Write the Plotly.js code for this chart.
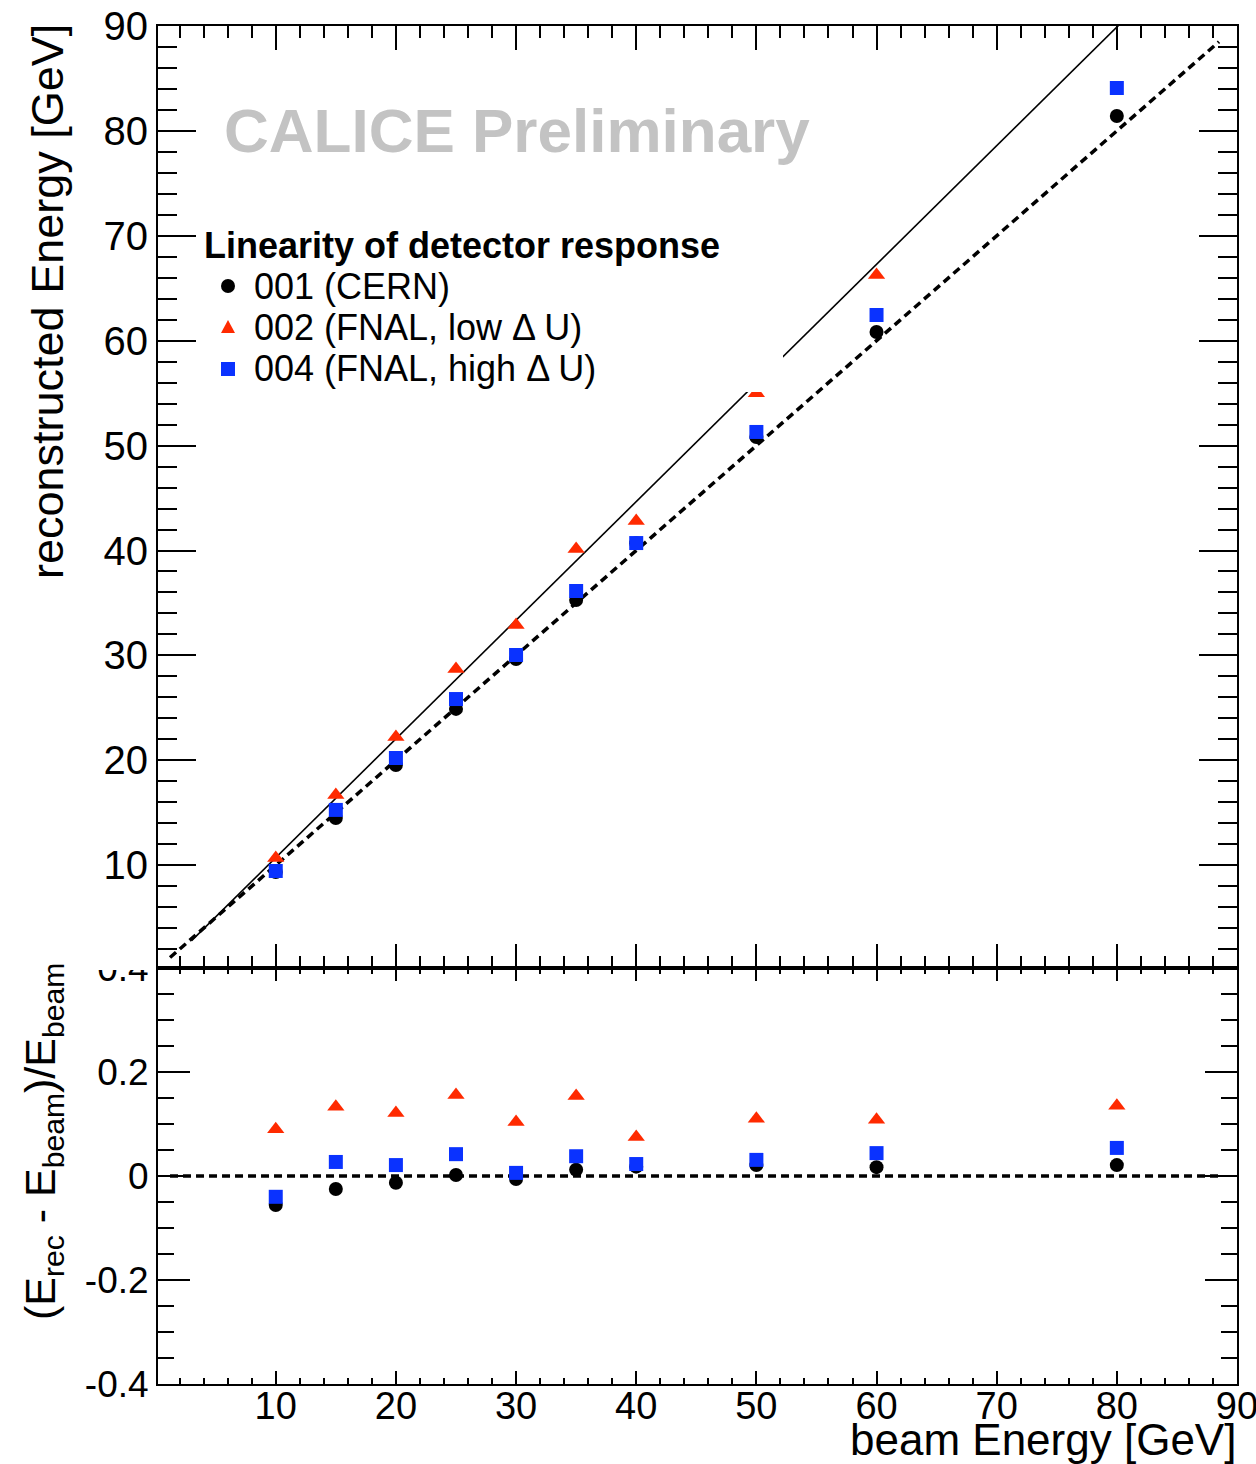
<!DOCTYPE html>
<html>
<head>
<meta charset="utf-8">
<script src="https://cdn.plot.ly/plotly-3.0.1.min.js"></script>
<style>html,body{margin:0;padding:0;background:#fff;}#chart{width:1256px;height:1464px;}</style>
</head>
<body>
<div id="chart"></div>
<script>
// ---- data ----
var beamEnergy = [10, 15, 20, 25, 30, 35, 40, 50, 60, 80];
var recE_001 = [9.35, 14.5, 19.55, 24.9, 29.66, 35.28, 40.7, 50.82, 60.83, 81.42];
var recE_002 = [10.69, 16.69, 22.22, 28.7, 32.9, 40.14, 42.81, 55.0, 66.26, null];
var recE_004 = [9.45, 15.27, 20.22, 25.84, 30.04, 36.14, 40.71, 51.3, 62.45, 84.09];
var res_001 = [-0.056, -0.025, -0.013, 0.002, -0.006, 0.012, 0.018, 0.021, 0.017, 0.021];
var res_002 = [0.090, 0.133, 0.121, 0.156, 0.104, 0.154, 0.075, 0.110, 0.108, 0.135];
var res_004 = [-0.040, 0.027, 0.021, 0.042, 0.006, 0.038, 0.023, 0.031, 0.044, 0.054];
var seriesNames = ['001 (CERN)', '002 (FNAL, low \u0394 U)', '004 (FNAL, high \u0394 U)'];
var legendHeader = 'Linearity of detector response';
var diagX = [1.2, 88.5];           // y = x reference line
var fitSlope = 1.131, fitIntercept = -0.58, fitX = [3, 82]; // fit line for 002
var resTickVals = [-0.4, -0.2, 0, 0.2, 0.4];
var resTickText = ['-0.4', '-0.2', '0', '0.2', '0.4'];

var FONT = 'Liberation Sans, Arial, Helvetica, sans-serif';
var colBlack = '#000000', colRed = '#ff2a00', colBlue = '#0a32ff';

var fitY = fitX.map(function (x) { return fitSlope * x + fitIntercept; });

var traces = [
  {x: diagX, y: diagX, xaxis: 'x', yaxis: 'y', mode: 'lines', showlegend: false, hoverinfo: 'skip',
   line: {color: '#000', width: 3.5, dash: '8px,5px'}},
  {x: fitX, y: fitY, xaxis: 'x', yaxis: 'y', mode: 'lines', showlegend: false, hoverinfo: 'skip',
   line: {color: '#000', width: 1.6}},
  {x: diagX, y: [0, 0], xaxis: 'x2', yaxis: 'y2', mode: 'lines', showlegend: false, hoverinfo: 'skip',
   line: {color: '#000', width: 3.5, dash: '8px,5px'}},
  {x: beamEnergy, y: recE_001, xaxis: 'x', yaxis: 'y', mode: 'markers', name: seriesNames[0], showlegend: false,
   marker: {symbol: 'circle', size: 14, color: colBlack}},
  {x: beamEnergy, y: recE_002, xaxis: 'x', yaxis: 'y', mode: 'markers', name: seriesNames[1], showlegend: false,
   marker: {symbol: 'triangle-up', size: 15, color: colRed}},
  {x: beamEnergy, y: recE_004, xaxis: 'x', yaxis: 'y', mode: 'markers', name: seriesNames[2], showlegend: false,
   marker: {symbol: 'square', size: 14, color: colBlue}},
  {x: beamEnergy, y: res_001, xaxis: 'x2', yaxis: 'y2', mode: 'markers', name: seriesNames[0], showlegend: false,
   marker: {symbol: 'circle', size: 14, color: colBlack}},
  {x: beamEnergy, y: res_002, xaxis: 'x2', yaxis: 'y2', mode: 'markers', name: seriesNames[1], showlegend: false,
   marker: {symbol: 'triangle-up', size: 15, color: colRed}},
  {x: beamEnergy, y: res_004, xaxis: 'x2', yaxis: 'y2', mode: 'markers', name: seriesNames[2], showlegend: false,
   marker: {symbol: 'square', size: 14, color: colBlue}}
];

var W = 1256, H = 1464;
function px(x) { return x / W; }
function py(y) { return (H - y) / H; }
var xDom = [px(158), px(1237)];

function baseAxis(o) {
  var a = {
    showline: true, linecolor: '#000', linewidth: 2, mirror: 'allticks',
    ticks: 'inside', tickcolor: '#000', tickwidth: 2,
    showgrid: false, zeroline: false, automargin: false, fixedrange: true,
    tickfont: {family: FONT, size: 38, color: '#000'}
  };
  for (var k in o) a[k] = o[k];
  return a;
}

// ---- legend drawn by hand (header, markers, labels) ----
var legLeft = 204, legMarkX = 228, legTextX = 255;
var legHeaderY = 245, legRowY = [286, 327, 369];
var legendShapes = [
  {type: 'circle', xref: 'paper', yref: 'paper',
   x0: px(legMarkX - 7), x1: px(legMarkX + 7), y0: py(legRowY[0] + 7), y1: py(legRowY[0] - 7),
   fillcolor: colBlack, line: {width: 0}, layer: 'above'},
  {type: 'path', xref: 'paper', yref: 'paper',
   path: 'M ' + px(legMarkX - 7) + ' ' + py(legRowY[1] + 6) + ' L ' + px(legMarkX + 7) + ' ' + py(legRowY[1] + 6) +
         ' L ' + px(legMarkX) + ' ' + py(legRowY[1] - 7) + ' Z',
   fillcolor: colRed, line: {width: 0}, layer: 'above'},
  {type: 'rect', xref: 'paper', yref: 'paper',
   x0: px(legMarkX - 7), x1: px(legMarkX + 7), y0: py(legRowY[2] + 7), y1: py(legRowY[2] - 7),
   fillcolor: colBlue, line: {width: 0}, layer: 'above'}
];
var legendAnnots = [
  {text: '<b>' + legendHeader + '</b>', xref: 'paper', yref: 'paper', x: px(legLeft - 2), y: py(legHeaderY),
   xanchor: 'left', yanchor: 'middle', showarrow: false, font: {family: FONT, size: 36, color: '#000'}}
];
seriesNames.forEach(function (n, i) {
  legendAnnots.push({text: n, xref: 'paper', yref: 'paper', x: px(legTextX - 3), y: py(legRowY[i]),
    xanchor: 'left', yanchor: 'middle', showarrow: false, font: {family: FONT, size: 36, color: '#000'}});
});

var layout = {
  width: W, height: H,
  margin: {l: 0, r: 0, t: 0, b: 0},
  paper_bgcolor: '#fff', plot_bgcolor: '#fff',
  font: {family: FONT, color: '#000'},
  showlegend: false,
  xaxis: baseAxis({domain: xDom, anchor: 'y', range: [0.2, 90], tick0: 0, dtick: 10,
    ticklen: 24, showticklabels: false,
    minor: {dtick: 2, tick0: 0, ticklen: 12, tickwidth: 2, tickcolor: '#000', ticks: 'inside'}}),
  yaxis: baseAxis({domain: [py(968), py(26)], anchor: 'x', range: [0.2, 90], tick0: 0, dtick: 10,
    ticklen: 38, tickfont: {family: FONT, size: 40, color: '#000'}, ticklabeloverflow: 'allow',
    minor: {dtick: 2, tick0: 0, ticklen: 19, tickwidth: 2, tickcolor: '#000', ticks: 'inside'}}),
  xaxis2: baseAxis({domain: xDom, anchor: 'y2', range: [0.2, 90], tick0: 0, dtick: 10,
    ticklen: 13, tickfont: {family: FONT, size: 38, color: '#000'},
    ticklabeloverflow: 'allow', ticklabelstandoff: -13,
    minor: {dtick: 2, tick0: 0, ticklen: 6, tickwidth: 2, tickcolor: '#000', ticks: 'inside'}}),
  yaxis2: baseAxis({domain: [py(1384), py(968)], anchor: 'x2', range: [-0.4, 0.4],
    tickmode: 'array', tickvals: resTickVals, ticktext: resTickText, ticklabeloverflow: 'allow',
    ticklen: 32, tickfont: {family: FONT, size: 37, color: '#000'},
    minor: {tickmode: 'linear', dtick: 0.05, tick0: 0, ticklen: 16, tickwidth: 2, tickcolor: '#000', ticks: 'inside'}}),
  shapes: [
    // white legend pad (hides part of the fit line, as in the original)
    {type: 'rect', xref: 'paper', yref: 'paper', x0: px(200), x1: px(783), y0: py(392), y1: py(222),
     fillcolor: '#fff', line: {width: 0}, layer: 'above'},
    // upper pad covers the top half of the lower pad's 0.4 label
    {type: 'rect', xref: 'paper', yref: 'paper', x0: 0, x1: px(156), y0: py(970), y1: py(930),
     fillcolor: '#fff', line: {width: 0}, layer: 'above'}
  ].concat(legendShapes),
  annotations: [
    {text: '<b>CALICE Preliminary</b>', xref: 'paper', yref: 'paper', x: px(222), y: py(131),
     xanchor: 'left', yanchor: 'middle', showarrow: false,
     font: {family: FONT, size: 62, color: '#c3c3c3'}},
    {text: 'reconstructed Energy [GeV]', xref: 'paper', yref: 'paper', x: px(48), y: py(302),
     xanchor: 'center', yanchor: 'middle', textangle: -90, showarrow: false,
     font: {family: FONT, size: 45, color: '#000'}},
    {text: '(E<sub>rec</sub> - E<sub>beam</sub>)/E<sub>beam</sub>', xref: 'paper', yref: 'paper',
     x: px(43), y: py(1142), xanchor: 'center', yanchor: 'middle', textangle: -90, showarrow: false,
     font: {family: FONT, size: 43, color: '#000'}},
    {text: 'beam Energy [GeV]', xref: 'paper', yref: 'paper', x: px(1238), y: py(1439),
     xanchor: 'right', yanchor: 'middle', showarrow: false,
     font: {family: FONT, size: 44, color: '#000'}}
  ].concat(legendAnnots)
};

Plotly.newPlot('chart', traces, layout, {staticPlot: true, displayModeBar: false});
</script>
</body>
</html>
